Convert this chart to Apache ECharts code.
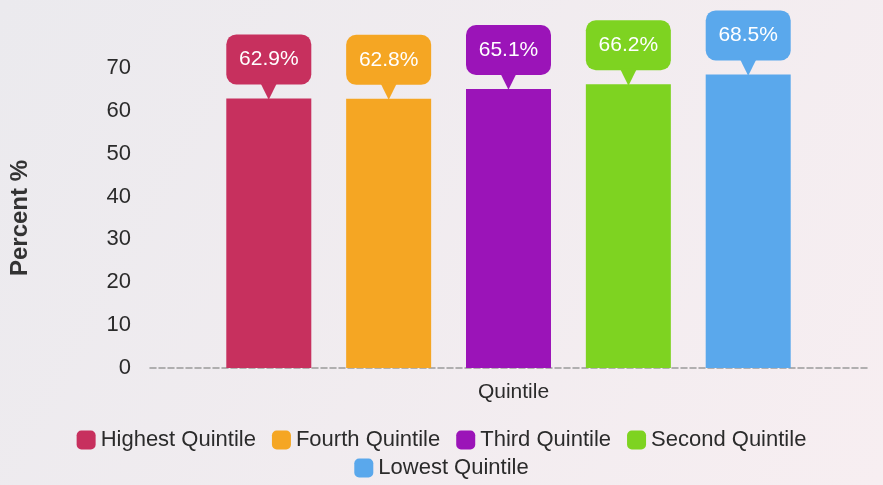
<!DOCTYPE html>
<html>
<head>
<meta charset="utf-8">
<script src="https://cdn.jsdelivr.net/npm/echarts@6/dist/echarts.min.js"></script>
<style>
html,body{margin:0;padding:0;}
#chart{width:883px;height:485px;}
</style>
</head>
<body>
<div id="chart"></div>
<script>
const categories = ['Quintile'];
const seriesNames = ['Highest Quintile', 'Fourth Quintile', 'Third Quintile', 'Second Quintile', 'Lowest Quintile'];
const values = [62.9, 62.8, 65.1, 66.2, 68.5];
const colors = ['#c7305e', '#f5a623', '#9b14b8', '#7ed321', '#5aa8ec'];
const yMin = 0, yMax = 70, yInterval = 10;
const yAxisName = 'Percent %';

const FONT = 'Liberation Sans, Arial, sans-serif';
const chart = echarts.init(document.getElementById('chart'), null, {renderer: 'canvas'});

const series = seriesNames.map((name, i) => ({
  type: 'bar',
  name: name,
  data: [values[i]],
  barWidth: 85,
  barGap: '41%',
  itemStyle: {color: colors[i]},
  label: {
    show: true,
    position: 'top',
    distance: 1,
    formatter: p => '{box|' + p.value.toFixed(1) + '%}\n{tri|▼}',
    rich: {
      box: {
        backgroundColor: colors[i],
        borderRadius: 10,
        width: 85,
        height: 50,
        lineHeight: 50,
        align: 'center',
        color: '#ffffff',
        fontSize: 21,
        fontFamily: FONT
      },
      tri: {
        color: colors[i],
        fontSize: 22,
        lineHeight: 13,
        align: 'center',
        fontFamily: 'DejaVu Sans'
      }
    }
  }
}));

chart.setOption({
  animation: false,
  backgroundColor: {
    type: 'linear', x: 0, y: 0, x2: 1, y2: 1,
    colorStops: [{offset: 0, color: '#ebeaee'}, {offset: 1, color: '#f7eef1'}]
  },
  textStyle: {fontFamily: FONT},
  grid: {left: 145, right: 16, top: 68, bottom: 117, containLabel: false},
  legend: [
    {
      data: seriesNames.slice(0, 4),
      left: 'center',
      top: 424,
      itemWidth: 19,
      itemHeight: 19,
      itemGap: 16,
      icon: 'roundRect',
      textStyle: {fontSize: 22, color: '#2b2b2b', fontFamily: FONT}
    },
    {
      data: seriesNames.slice(4),
      left: 'center',
      top: 452,
      itemWidth: 19,
      itemHeight: 19,
      icon: 'roundRect',
      textStyle: {fontSize: 22, color: '#2b2b2b', fontFamily: FONT}
    }
  ],
  xAxis: {
    type: 'category',
    data: categories,
    axisLine: {show: true, lineStyle: {color: '#9a9a9a', type: 'dashed', width: 1.5}},
    axisTick: {show: false},
    axisLabel: {fontSize: 21, color: '#2b2b2b', margin: 14, padding: [0, 0, 0, 10], fontFamily: FONT},
    splitLine: {show: false}
  },
  yAxis: {
    type: 'value',
    min: yMin,
    max: yMax,
    interval: yInterval,
    name: yAxisName,
    nameLocation: 'middle',
    nameGap: 118,
    nameTextStyle: {fontSize: 24, fontWeight: 'bold', color: '#333', fontFamily: FONT},
    axisLine: {show: false},
    axisTick: {show: false},
    splitLine: {show: false},
    axisLabel: {fontSize: 22, color: '#2b2b2b', margin: 19, fontFamily: FONT}
  },
  series: series
});
</script>
</body>
</html>
